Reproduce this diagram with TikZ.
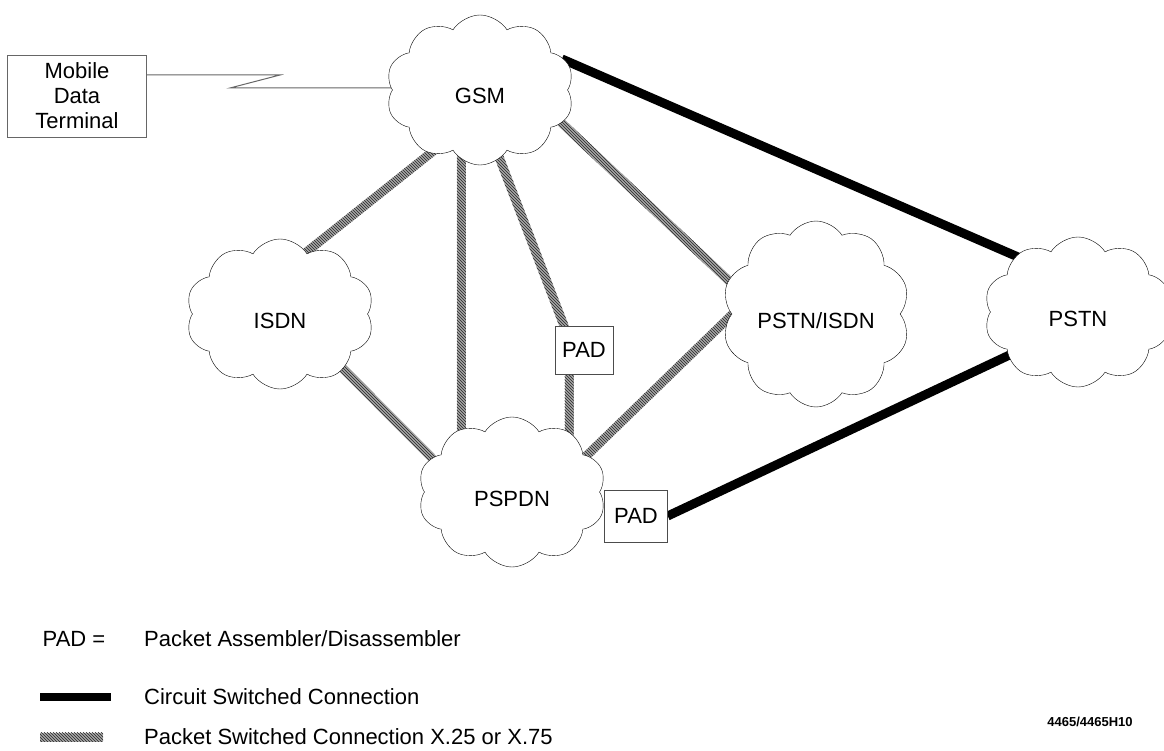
\documentclass[tikz,border=0pt]{standalone}
\usepackage{fontspec}
\setmainfont{Liberation Sans}
\usetikzlibrary{shapes.symbols,calc,backgrounds,patterns}

\tikzset{
  net/.style={cloud, cloud puffs=10, cloud puff arc=115, draw, fill=white,
    minimum width=188pt, minimum height=150pt, inner sep=0pt,
    text height=28pt, text depth=0pt},
  padbox/.style={draw=black!70, fill=white, minimum width=58pt, minimum height=48pt, inner sep=0pt},
  circuit/.style={line width=9pt},
  packet/.style={fill=black!35, postaction={pattern=north west lines, pattern color=black!85}},
  radio/.style={draw=black!60, line width=1pt},
  key/.style={anchor=west, inner sep=0pt}
}

% hatched band between two points, pushed a little into both ends
\newcommand{\packetlink}[2]{%
  \path ($(#1)!-6pt!(#2)$) coordinate (pa) ($(#2)!-6pt!(#1)$) coordinate (pb);
  \fill[packet] ($(pa)!4.5pt!90:(pb)$) -- ($(pa)!4.5pt!-90:(pb)$)
    -- ($(pb)!4.5pt!90:(pa)$) -- ($(pb)!4.5pt!-90:(pa)$) -- cycle;}

\begin{document}
\begin{tikzpicture}[x=1pt,y=-1pt,font=\fontsize{22}{25}\selectfont]
\useasboundingbox (0,0) rectangle (1164,751);

\node[net] (gsm) at (480,90) {GSM};
\node[net] (isdn) at (280,314) {ISDN};
\node[net] (psi) at (816,314) {PSTN/ISDN};
\node[net] (pstn) at (1078,312) {PSTN};
\node[net] (pspdn) at (512,492) {PSPDN};
\node[padbox] (pad1) at (584,350) {PAD};
\node[padbox, minimum width=63pt, minimum height=52pt] (pad2) at (636,516) {PAD};
\node[draw=black!60, align=center, minimum width=139pt, minimum height=82pt, inner sep=0pt] (mdt) at (77,96) {Mobile\\Data\\Terminal};

\coordinate (zigA) at (280,75);
\coordinate (zigB) at (230,88);
\coordinate (vbot) at (gsm.255 |- pspdn.127);
\coordinate (padtop) at ($(pad1.north)+(-20,0)$);
\coordinate (padbot) at ($(pad1.south)+(-15,0)$);
\coordinate (padlow) at ($(padbot)+(0,70)$);

\begin{pgfonlayer}{background}
\fill[white] (0,0) rectangle (1164,751);
\draw[radio] (mdt.east |- zigA) -- (zigA) -- (zigB) -- (zigB -| gsm.west);
\packetlink{gsm.232}{isdn.67}
\packetlink{gsm.255}{vbot}
\packetlink{gsm.286}{padtop}
\packetlink{gsm.338}{psi.159}
\packetlink{isdn.319}{pspdn.157}
\packetlink{padbot}{padlow}
\packetlink{psi.182}{pspdn.26}
\draw[circuit, shorten <=-4pt, shorten >=-4pt] (gsm.19) -- (pstn.138);
\draw[circuit, shorten >=-4pt] (pad2.east) -- (pstn.212);
\end{pgfonlayer}

% legend
\node (padkey) at (74,639) {PAD =};
\node[key] (padtext) at (144,639) {Packet Assembler/Disassembler};
\coordinate (ckeyA) at (40,697);
\coordinate (ckeyB) at (111,697);
\draw[line width=8pt] (ckeyA) -- (ckeyB);
\node[key] (ctext) at (144,697) {Circuit Switched Connection};
\coordinate (pkeyA) at (46,737);
\coordinate (pkeyB) at (97,737);
\packetlink{pkeyA}{pkeyB}
\node[key] (ptext) at (144,737) {Packet Switched Connection X.25 or X.75};
\node[font=\bfseries\fontsize{13}{15}\selectfont] (figid) at (1090,722) {4465/4465H10};
\end{tikzpicture}
\end{document}
